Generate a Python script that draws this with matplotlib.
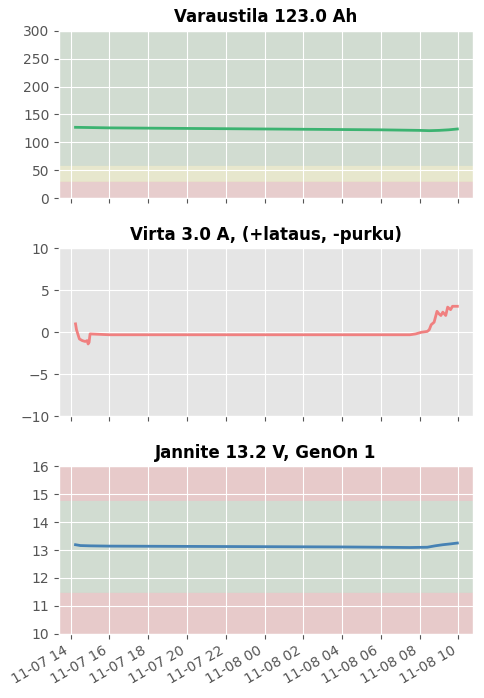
import matplotlib
matplotlib.use("Agg")
import matplotlib.pyplot as plt
import matplotlib.dates as mdates
import pandas as pd

plt.style.use("ggplot")

# time points (hours since 11-07 00:00) and values
cap_h = [14.25, 16, 18, 20, 22, 24, 26, 28, 30, 32, 32.5, 33, 33.5, 33.95]
cap_v = [127, 126, 125.5, 125, 124.5, 124, 123.5, 123, 122.5, 121.5, 121, 121.5, 122.5, 124]

cur_h = [14.25, 14.3, 14.45, 14.6, 14.75, 14.85, 14.9, 14.95, 15.0, 15.5, 16, 20, 24, 28, 31.5,
         31.8, 32.1, 32.4, 32.5, 32.6, 32.75, 32.9, 33.0, 33.1, 33.2, 33.35, 33.45, 33.6, 33.7, 33.95]
cur_v = [1.0, 0.3, -0.8, -1.0, -1.1, -1.0, -1.4, -1.2, -0.2, -0.25, -0.3, -0.3, -0.3, -0.3, -0.3,
         -0.2, 0.0, 0.1, 0.3, 0.9, 1.2, 2.5, 2.2, 2.0, 2.4, 2.0, 3.0, 2.7, 3.1, 3.1]

volt_h = [14.25, 14.5, 15, 16, 20, 24, 28, 30, 31.5, 32.4, 32.8, 33.2, 33.6, 33.95]
volt_v = [13.19, 13.16, 13.15, 13.14, 13.13, 13.12, 13.11, 13.1, 13.09, 13.1, 13.15, 13.19, 13.22, 13.25]

base = pd.Timestamp("2023-11-07")
def to_t(hours):
    return [base + pd.Timedelta(hours=h) for h in hours]

fig, axes = plt.subplots(3, 1, figsize=(4.84, 6.98), dpi=100, sharex=True)
ax1, ax2, ax3 = axes

ax1.axhspan(0, 30, color="#e8c8c8", alpha=0.8, zorder=0)
ax1.axhspan(30, 60, color="#e8e8c8", alpha=0.8, zorder=0)
ax1.axhspan(60, 300, color="#cfdbcf", alpha=0.9, zorder=0)
ax1.plot(to_t(cap_h), cap_v, color="#3cb371", lw=2)
ax1.set_ylim(0, 300)
ax1.set_title("Varaustila 123.0 Ah", fontweight="bold", fontsize=12)

ax2.plot(to_t(cur_h), cur_v, color="#f08080", lw=2)
ax2.set_ylim(-10, 10)
ax2.set_title("Virta 3.0 A, (+lataus, -purku)", fontweight="bold", fontsize=12)

ax3.axhspan(10, 11.5, color="#e8c8c8", alpha=0.9, zorder=0)
ax3.axhspan(11.5, 14.8, color="#cfdbcf", alpha=0.9, zorder=0)
ax3.axhspan(14.8, 16, color="#e8c8c8", alpha=0.9, zorder=0)
ax3.plot(to_t(volt_h), volt_v, color="#4682b4", lw=2)
ax3.set_ylim(10, 16)
ax3.set_title("Jannite 13.2 V, GenOn 1", fontweight="bold", fontsize=12)

ax3.set_xlim(base + pd.Timedelta(hours=13.4), base + pd.Timedelta(hours=34.75))
ax3.xaxis.set_major_locator(mdates.HourLocator(byhour=range(0, 24, 2)))
ax3.xaxis.set_major_formatter(mdates.DateFormatter("%m-%d %H"))
for ax in axes:
    ax.tick_params(labelsize=10)
fig.autofmt_xdate()

fig.subplots_adjust(left=0.122, right=0.977, top=0.956, bottom=0.092, hspace=0.30)
plt.savefig("out.png", dpi=100)
